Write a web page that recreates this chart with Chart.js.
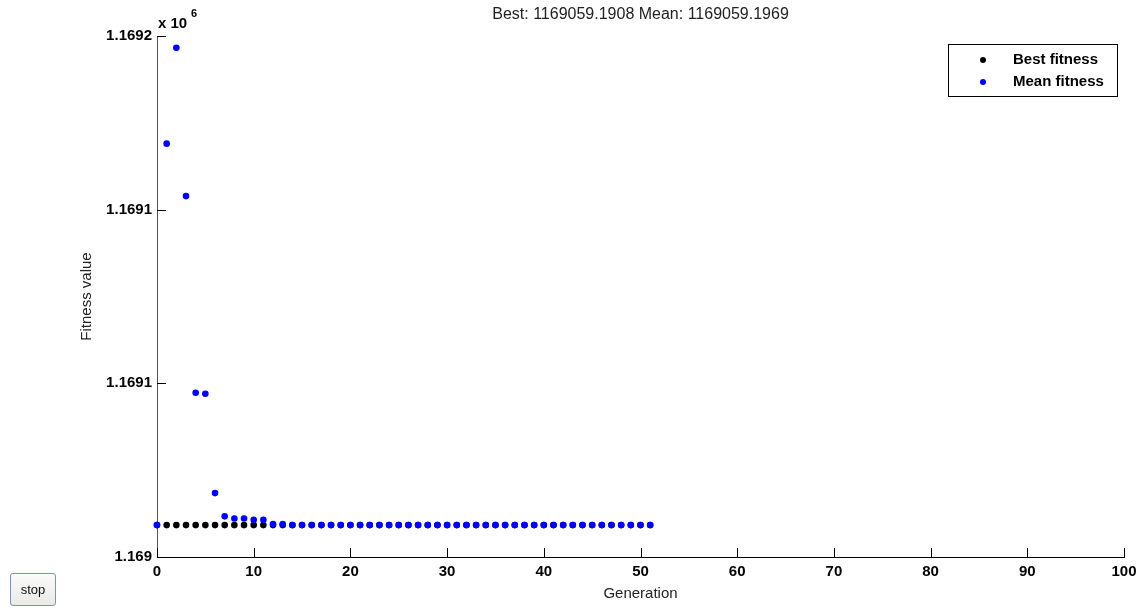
<!DOCTYPE html>
<html>
<head>
<meta charset="utf-8">
<script src="https://cdn.jsdelivr.net/npm/chart.js@4.4.1/dist/chart.umd.min.js"></script>
<style>
    html, body { margin: 0; padding: 0; background: #fff; }
    #wrap { position: relative; width: 1143px; height: 607px; }
    #stopBtn {
        position: absolute; left: 10px; top: 573px; width: 46px; height: 33px;
        font: 13px 'Liberation Sans', Arial, sans-serif; color: #111;
        background: linear-gradient(#fbfbfb, #e9e9e6);
        border: 1px solid #7d95b3; border-radius: 3px; padding: 0;
    }
</style>
</head>
<body>
<div id="wrap">
    <canvas id="gaChart" width="1143" height="607"></canvas>
    <button id="stopBtn">stop</button>
</div>
<script>
// Generations (x)
const generations = [0, 1, 2, 3, 4, 5, 6, 7, 8, 9, 10, 11, 12, 13, 14, 15, 16, 17, 18, 19,
    20, 21, 22, 23, 24, 25, 26, 27, 28, 29, 30, 31, 32, 33, 34, 35, 36, 37, 38, 39,
    40, 41, 42, 43, 44, 45, 46, 47, 48, 49, 50, 51];

// Best fitness per generation
const bestFitness = [
    1169059.19, 1169059.19, 1169059.19, 1169059.19, 1169059.19, 1169059.19, 1169059.19, 1169059.19,
    1169059.19, 1169059.19, 1169059.19, 1169059.19, 1169059.19, 1169059.19, 1169059.19, 1169059.19,
    1169059.19, 1169059.19, 1169059.19, 1169059.19, 1169059.19, 1169059.19, 1169059.19, 1169059.19,
    1169059.19, 1169059.19, 1169059.19, 1169059.19, 1169059.19, 1169059.19, 1169059.19, 1169059.19,
    1169059.19, 1169059.19, 1169059.19, 1169059.19, 1169059.19, 1169059.19, 1169059.19, 1169059.19,
    1169059.19, 1169059.19, 1169059.19, 1169059.19, 1169059.19, 1169059.19, 1169059.19, 1169059.19,
    1169059.19, 1169059.19, 1169059.19, 1169059.19
];

// Mean fitness per generation
const meanFitness = [
    1169059.2, 1169169.0, 1169196.6, 1169153.9, 1169097.3, 1169097.0, 1169068.4, 1169061.7,
    1169061.1, 1169061.1, 1169060.7, 1169060.7, 1169059.5, 1169059.5, 1169059.2, 1169059.2,
    1169059.2, 1169059.2, 1169059.2, 1169059.2, 1169059.2, 1169059.2, 1169059.2, 1169059.2,
    1169059.2, 1169059.2, 1169059.2, 1169059.2, 1169059.2, 1169059.2, 1169059.2, 1169059.2,
    1169059.2, 1169059.2, 1169059.2, 1169059.2, 1169059.2, 1169059.2, 1169059.2, 1169059.2,
    1169059.2, 1169059.2, 1169059.2, 1169059.2, 1169059.2, 1169059.2, 1169059.2, 1169059.2,
    1169059.2, 1169059.2, 1169059.2, 1169059.2
];

// Axis ticks
const yTicks = [1169050, 1169100, 1169150, 1169200];
const yTickLabels = ['1.169', '1.1691', '1.1691', '1.1692'];
const titleText = 'Best: 1169059.1908 Mean: 1169059.1969';

const FONT = "'Liberation Sans', Arial, Helvetica, sans-serif";

// Title, x10^6 multiplier, inward tick marks and boxed legend
const matlabDecor = {
    id: 'matlabDecor',
    beforeDatasetsDraw(chart) {
        const ctx = chart.ctx;
        const area = chart.chartArea;
        const xs = chart.scales.x, ys = chart.scales.y;
        ctx.save();
        ctx.lineWidth = 1;
        ctx.strokeStyle = '#000';
        ctx.beginPath();
        xs.ticks.forEach(t => {
            const px = Math.round(xs.getPixelForValue(t.value)) + 0.5;
            ctx.moveTo(px, area.bottom);
            ctx.lineTo(px, area.bottom - 9);
        });
        ys.ticks.forEach(t => {
            const py = Math.round(ys.getPixelForValue(t.value)) + 0.5;
            ctx.moveTo(area.left, py);
            ctx.lineTo(area.left + 9, py);
        });
        ctx.stroke();
        ctx.restore();
    },
    afterDraw(chart) {
        const ctx = chart.ctx;
        const area = chart.chartArea;
        ctx.save();

        // title
        ctx.fillStyle = '#222';
        ctx.font = '16px ' + FONT;
        ctx.textAlign = 'center';
        ctx.textBaseline = 'middle';
        ctx.fillText(titleText, (area.left + area.right) / 2, 15);

        // multiplier
        ctx.fillStyle = '#000';
        ctx.textAlign = 'left';
        ctx.textBaseline = 'alphabetic';
        ctx.font = 'bold 15px ' + FONT;
        ctx.fillText('x 10', area.left + 1, 28);
        ctx.font = 'bold 11px ' + FONT;
        ctx.fillText('6', area.left + 34, 17);

        // legend
        const bx = area.right - 176, by = area.top + 8, bw = 169, bh = 52;
        ctx.fillStyle = '#fff';
        ctx.fillRect(bx, by, bw, bh);
        ctx.strokeStyle = '#000';
        ctx.lineWidth = 1;
        ctx.strokeRect(bx + 0.5, by + 0.5, bw, bh);
        ctx.font = 'bold 15px ' + FONT;
        ctx.textBaseline = 'middle';
        chart.data.datasets.forEach((ds, i) => {
            const cy = by + 16 + i * 22;
            ctx.fillStyle = ds.backgroundColor;
            ctx.beginPath();
            ctx.arc(bx + 35, cy, 3, 0, Math.PI * 2);
            ctx.fill();
            ctx.fillStyle = '#000';
            ctx.fillText(ds.label, bx + 65, cy);
        });
        ctx.restore();
    }
};

const ctx = document.getElementById('gaChart').getContext('2d');
new Chart(ctx, {
    type: 'scatter',
    data: {
        datasets: [
            {
                label: 'Best fitness',
                data: generations.map((g, i) => ({ x: g, y: bestFitness[i] })),
                backgroundColor: '#000000',
                borderColor: '#000000',
                pointRadius: 3.3,
                borderWidth: 0,
                clip: false,
                order: 1
            },
            {
                label: 'Mean fitness',
                data: generations.map((g, i) => ({ x: g, y: meanFitness[i] })),
                backgroundColor: '#0000ff',
                borderColor: '#0000ff',
                pointRadius: 3.3,
                borderWidth: 0,
                clip: false,
                order: 0
            }
        ]
    },
    options: {
        responsive: false,
        animation: false,
        layout: {
            padding: { top: 36, right: 19, bottom: 0, left: 0 }
        },
        plugins: {
            legend: { display: false },
            tooltip: { enabled: false },
            title: { display: false }
        },
        scales: {
            x: {
                type: 'linear',
                min: 0,
                max: 100,
                afterFit: scale => { scale.height = 50; },
                grid: { display: false, drawTicks: false, tickLength: 0 },
                border: { display: true, color: '#000', width: 1 },
                ticks: {
                    stepSize: 10,
                    padding: 6,
                    color: '#000',
                    font: { family: FONT, size: 15, weight: 'bold' }
                },
                title: {
                    display: true,
                    text: 'Generation',
                    color: '#222',
                    font: { family: FONT, size: 15 },
                    padding: { top: 0, bottom: 4 }
                }
            },
            y: {
                type: 'linear',
                min: 1169050,
                max: 1169200,
                afterFit: scale => { scale.width = 157; },
                afterBuildTicks: scale => {
                    scale.ticks = yTicks.map(v => ({ value: v }));
                },
                grid: { display: false, drawTicks: false, tickLength: 0 },
                border: { display: true, color: '#555', width: 1 },
                ticks: {
                    padding: 5,
                    color: '#000',
                    font: { family: FONT, size: 15, weight: 'bold' },
                    callback: (value, index) => yTickLabels[index]
                },
                title: {
                    display: true,
                    text: 'Fitness value',
                    color: '#222',
                    font: { family: FONT, size: 15 },
                    padding: { top: 78, bottom: 0 }
                }
            }
        }
    },
    plugins: [matlabDecor]
});
</script>
</body>
</html>
